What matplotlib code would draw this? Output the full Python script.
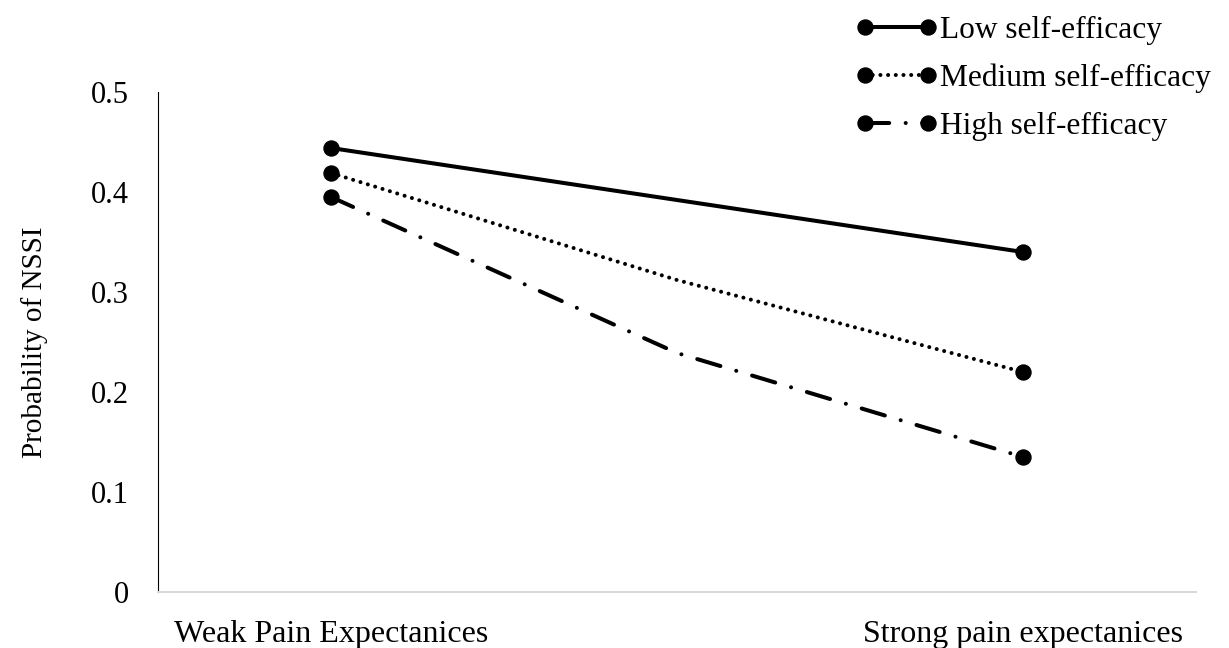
import numpy as np
import matplotlib
matplotlib.use('Agg')
import matplotlib.pyplot as plt

plt.rcParams['font.family'] = ['Liberation Serif', 'DejaVu Serif']

# Probability of NSSI by pain expectancy, for three levels of self-efficacy
x_pos = [0, 0.5, 1]
low_self_efficacy = [0.444, 0.392, 0.340]
medium_self_efficacy = [0.419, 0.312, 0.220]
high_self_efficacy = [0.395, 0.239, 0.135]
series_names = ['Low self-efficacy', 'Medium self-efficacy', 'High self-efficacy']
category_labels = ['Weak Pain Expectanices', 'Strong pain expectanices']
y_ticks = [0, 0.1, 0.2, 0.3, 0.4, 0.5]
y_tick_labels = ['0', '0.1', '0.2', '0.3', '0.4', '0.5']

fig = plt.figure(figsize=(12.29, 6.48), dpi=100)
ax = fig.add_axes([0.1286, 0.0864, 0.8446, 0.7716])

lw = 2.9
styles = ['-', (0, (0.01, 1.9)), (0, (6, 4.1, 0.01, 4.1))]
all_series = [low_self_efficacy, medium_self_efficacy, high_self_efficacy]

for vals, ls, name in zip(all_series, styles, series_names):
    ax.plot(x_pos, vals, color='black', linewidth=lw, linestyle=ls,
            dash_capstyle='round', solid_capstyle='round',
            solid_joinstyle='round', dash_joinstyle='round',
            marker='o', markersize=10.8, markevery=[0, 2], label=name)

ax.set_xlim(-0.25, 1.25)
ax.set_ylim(0, 0.5)
ax.set_yticks(y_ticks)
ax.set_yticklabels(y_tick_labels)
ax.set_xticks([0, 1])
ax.set_xticklabels(category_labels)
ax.tick_params(axis='y', length=0, pad=21, labelsize=22)
ax.tick_params(axis='x', length=0, pad=20, labelsize=23)

ax.spines['top'].set_visible(False)
ax.spines['right'].set_visible(False)
ax.spines['left'].set_linewidth(0.8)
ax.spines['left'].set_color('black')
ax.spines['bottom'].set_linewidth(1.5)
ax.spines['bottom'].set_color('#d9d9d9')

ax.set_ylabel('Probability of NSSI', fontsize=21, labelpad=31)

leg = ax.legend(loc='upper left', bbox_to_anchor=(0.6783, 1.01), bbox_transform=fig.transFigure,
                frameon=False, fontsize=22.6, handlelength=2.6, handletextpad=0.08,
                labelspacing=0.61, numpoints=2, borderaxespad=0.3)

fig.savefig('out.png', dpi=100)
